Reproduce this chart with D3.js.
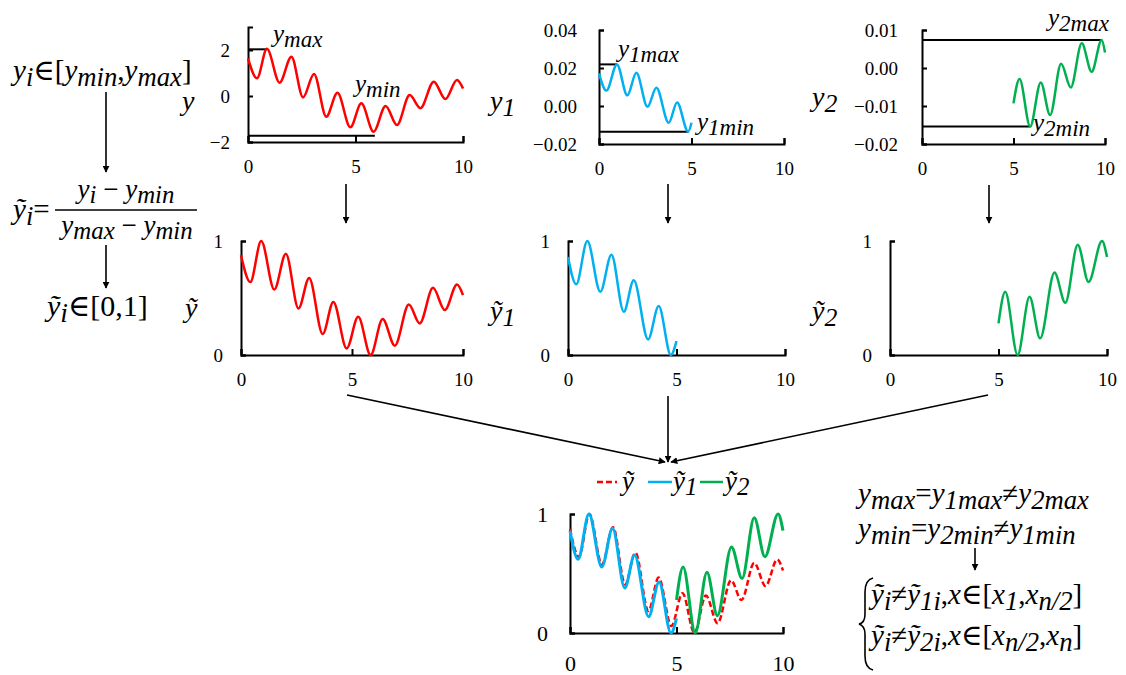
<!DOCTYPE html>
<html>
<head>
<meta charset="utf-8">
<script src="https://cdn.jsdelivr.net/npm/d3@7"></script>
<style>
  body { margin: 0; background: #fff; }
  .domain, .tick line { stroke: #000; stroke-width: 2; }
</style>
</head>
<body>
<svg id="fig" width="1126" height="675"></svg>
<script>
// tick values
var xTicks = [0, 5, 10];
var yTicks = [-2, 0, 2];
var y1Ticks = [-0.02, 0, 0.02, 0.04];
var y2Ticks = [-0.02, -0.01, 0, 0.01];
var normTicks = [0, 1];

// raw signal and its two halves, [x, value] read at each peak / trough
var ySeries = [[0,1.64],[0.42,0.77],[0.88,2.05],[1.47,0.58],[2.02,1.71],[2.56,-0.06],[3.07,0.96],[3.64,-0.90],[4.16,0.14],[4.76,-1.36],[5.27,-0.32],[5.84,-1.55],[6.40,-0.43],[6.93,-1.26],[7.52,0.04],[8.02,-0.53],[8.64,0.62],[9.18,-0.13],[9.72,0.70],[10,0.33]];
var y1Series = [[0,0.0172],[0.40,0.0081],[0.97,0.0219],[1.53,0.0056],[2.02,0.0175],[2.62,-0.0004],[3.10,0.0096],[3.77,-0.0088],[4.22,0.0018],[4.82,-0.0135],[5,-0.0088]];
var y2Series = [[5,-0.0093],[5.33,-0.0029],[5.91,-0.0154],[6.49,-0.0038],[7.0,-0.0124],[7.6,0.0011],[8.13,-0.0051],[8.73,0.0065],[9.27,-0.0010],[9.82,0.0074],[10,0.0041]];

// normalised versions
var yNorm = [[0,0.875],[0.42,0.64],[0.91,1.0],[1.50,0.574],[2.02,0.889],[2.59,0.408],[3.07,0.676],[3.68,0.184],[4.16,0.466],[4.76,0.058],[5.28,0.335],[5.84,0],[6.38,0.315],[6.93,0.082],[7.56,0.443],[8.05,0.277],[8.65,0.589],[9.18,0.394],[9.73,0.618],[10,0.525]];
var y1Norm = [[0,0.86],[0.38,0.62],[0.89,1],[1.49,0.554],[2.0,0.88],[2.57,0.379],[3.03,0.656],[3.69,0.137],[4.18,0.429],[4.74,0],[5,0.122]];
var y2Norm = [[5,0.277],[5.31,0.554],[5.88,0],[6.43,0.51],[6.92,0.146],[7.58,0.723],[8.08,0.458],[8.65,0.968],[9.15,0.641],[9.77,1.0],[10,0.86]];

// max / min guide lines: [x where the guide ends, level]
var yGuides = [[0.9, 2.03], [5.9, -1.73]];
var y1Guides = [[0.97, 0.0219], [4.82, -0.0135]];
var y2Guides = [[9.82, 0.0074], [5.91, -0.0154]];

var RED = "#ff0000", BLUE = "#00b0f0", GREEN = "#00b050";
var SERIF = "'Liberation Serif', 'Times New Roman', Times, 'DejaVu Serif', serif";

var svg = d3.select("#fig").style("font-family", SERIF);
svg.append("rect").attr("width", 1126).attr("height", 675).attr("fill", "#fff");

var defs = svg.append("defs");
defs.append("marker").attr("id", "head")
    .attr("viewBox", "0 0 10 10").attr("refX", 9).attr("refY", 5)
    .attr("markerWidth", 7).attr("markerHeight", 7)
    .attr("markerUnits", "userSpaceOnUse").attr("orient", "auto")
  .append("path").attr("d", "M0,0 L10,5 L0,10 z").attr("fill", "#000");

function panel(cfg) {
  var x = d3.scaleLinear().domain([0, 10]).range(cfg.xr);
  var y = d3.scaleLinear().domain(cfg.yd).range(cfg.yr);
  var g = svg.append("g");
  var fs = cfg.fs || 19;
  var ax = g.append("g")
    .attr("transform", "translate(0," + cfg.yr[0] + ")")
    .call(d3.axisBottom(x).tickValues(xTicks).tickSizeInner(-6).tickSizeOuter(-6).tickPadding(cfg.xpad || 18));
  var ay = g.append("g")
    .attr("transform", "translate(" + cfg.xr[0] + ",0)")
    .call(d3.axisLeft(y).tickValues(cfg.ticks).tickFormat(cfg.fmt || d3.format("d"))
      .tickSizeInner(-5).tickSizeOuter(-5).tickPadding(cfg.ypad || 18));
  [ax, ay].forEach(function(a) {
    a.attr("font-family", null).attr("font-size", null);
    a.selectAll(".tick text").style("font-family", SERIF).style("font-size", fs + "px").attr("fill", "#000");
    a.select(".domain").attr("fill", "none");
  });
  return { x: x, y: y, g: g };
}

function curve(p, data, color, width, dash) {
  var line = d3.line().x(function(d) { return p.x(d[0]); })
                      .y(function(d) { return p.y(d[1]); })
                      .curve(d3.curveMonotoneX);
  p.g.append("path").datum(data).attr("d", line)
    .attr("fill", "none").attr("stroke", color).attr("stroke-width", width || 2.5)
    .attr("stroke-dasharray", dash || null);
}

function guides(p, data) {
  p.g.selectAll(".guide").data(data).enter().append("line")
    .attr("x1", p.x(0)).attr("x2", function(d) { return p.x(d[0]); })
    .attr("y1", function(d) { return p.y(d[1]); }).attr("y2", function(d) { return p.y(d[1]); })
    .attr("stroke", "#000").attr("stroke-width", 2);
}

// italic math with subscripts; parts = [text, kind] where kind is i / r / sub
function math(x, y, parts, size, anchor) {
  var t = svg.append("text").attr("x", x).attr("y", y)
    .style("font-family", SERIF).style("font-size", size + "px")
    .attr("text-anchor", anchor || "start");
  var shift = 0;
  parts.forEach(function(p) {
    var kind = p[1] || "i";
    var want = kind === "sub" ? 0.2 * size : 0;
    var s = t.append("tspan").text(p[0]).attr("dy", want - shift);
    shift = want;
    s.style("font-style", kind === "r" ? "normal" : "italic");
    if (kind === "sub") s.style("font-size", (size * 0.92) + "px");
  });
  return t;
}

function arrow(x1, y1, x2, y2) {
  svg.append("line").attr("x1", x1).attr("y1", y1).attr("x2", x2).attr("y2", y2)
    .attr("stroke", "#000").attr("stroke-width", 1.6).attr("marker-end", "url(#head)");
}

// ---- top row: raw signals ----
var p1 = panel({ xr: [248, 463], yd: [-2, 3], yr: [142, 27], ticks: yTicks });
guides(p1, yGuides);
curve(p1, ySeries, RED);

var p3 = panel({ xr: [599, 784], yd: [-0.02, 0.04], yr: [144, 30], ticks: y1Ticks, fmt: d3.format(".2f"), ypad: 22 });
guides(p3, y1Guides);
curve(p3, y1Series, BLUE);

var p5 = panel({ xr: [922, 1105], yd: [-0.02, 0.01], yr: [144, 30], ticks: y2Ticks, fmt: d3.format(".2f"), ypad: 24 });
guides(p5, y2Guides);
curve(p5, y2Series, GREEN);

// ---- second row: normalised ----
var p2 = panel({ xr: [241, 463], yd: [0, 1], yr: [355, 241], ticks: normTicks });
curve(p2, yNorm, RED);
var p4 = panel({ xr: [568, 785], yd: [0, 1], yr: [355, 241], ticks: normTicks });
curve(p4, y1Norm, BLUE);
var p6 = panel({ xr: [890, 1107], yd: [0, 1], yr: [355, 241], ticks: normTicks });
curve(p6, y2Norm, GREEN);

// ---- bottom: combined ----
var p7 = panel({ xr: [570, 783], yd: [0, 1], yr: [633, 514], ticks: normTicks, fs: 22, xpad: 22, ypad: 22 });
curve(p7, yNorm, RED, 2.5, "6,3");
curve(p7, y1Norm, BLUE, 3);
curve(p7, y2Norm, GREEN, 3);

// legend
var legend = [[RED, "6,3", 597, 617, 622, [["ỹ"]]],
              [BLUE, null, 648, 672, 673, [["ỹ"], ["1", "sub"]]],
              [GREEN, null, 700, 723, 725, [["ỹ"], ["2", "sub"]]]];
legend.forEach(function(l) {
  svg.append("line").attr("x1", l[2]).attr("x2", l[3]).attr("y1", 482).attr("y2", 482)
    .attr("stroke", l[0]).attr("stroke-width", 2.5).attr("stroke-dasharray", l[1]);
  math(l[4], 490, l[5], 27);
});

// axis titles
math(182, 110, [["y"]], 28);
math(490, 110, [["y"], ["1", "sub"]], 28);
math(812, 106, [["y"], ["2", "sub"]], 28);
math(185, 317, [["ỹ"]], 28);
math(490, 320, [["ỹ"], ["1", "sub"]], 28);
math(812, 320, [["ỹ"], ["2", "sub"]], 28);

// max / min labels
math(273, 42, [["y"], ["max", "sub"]], 25);
math(355, 92, [["y"], ["min", "sub"]], 25);
math(618, 57, [["y"], ["1max", "sub"]], 25);
math(697, 130, [["y"], ["1min", "sub"]], 25);
math(1048, 26, [["y"], ["2max", "sub"]], 25);
math(1033, 131, [["y"], ["2min", "sub"]], 25);

// left formula column
math(13, 80, [["y"], ["i", "sub"], ["∈", "r"], ["[", "r"], ["y"], ["min", "sub"], [",", "r"], ["y"], ["max", "sub"], ["]", "r"]], 29);
arrow(106, 92, 106, 172);
math(13, 219, [["ỹ"], ["i", "sub"], ["=", "r"]], 29);
math(126, 198, [["y"], ["i", "sub"], [" − ", "r"], ["y"], ["min", "sub"]], 27, "middle");
svg.append("line").attr("x1", 55).attr("x2", 197).attr("y1", 210).attr("y2", 210)
  .attr("stroke", "#000").attr("stroke-width", 1.5);
math(127, 234, [["y"], ["max", "sub"], [" − ", "r"], ["y"], ["min", "sub"]], 27, "middle");
arrow(106, 245, 106, 288);
math(47, 316, [["ỹ"], ["i", "sub"], ["∈", "r"], ["[0,1]", "r"]], 30);

// arrows between rows
arrow(346, 184, 346, 223);
arrow(668, 184, 668, 223);
arrow(989, 185, 989, 223);
arrow(347, 395, 665, 462);
arrow(668, 396, 668, 462);
arrow(988, 395, 671, 462);

// right formula block
math(858, 503, [["y"], ["max", "sub"], ["=", "r"], ["y"], ["1max", "sub"], ["≠", "r"], ["y"], ["2max", "sub"]], 29);
math(858, 538, [["y"], ["min", "sub"], ["=", "r"], ["y"], ["2min", "sub"], ["≠", "r"], ["y"], ["1min", "sub"]], 29);
arrow(975, 548, 975, 570);
svg.append("path")
  .attr("d", "M873,578 Q865,580 865,592 L865,614 Q865,623 859,624 Q865,626 865,634 L865,656 Q865,668 873,670")
  .attr("fill", "none").attr("stroke", "#000").attr("stroke-width", 1.6);
math(871, 604, [["ỹ"], ["i", "sub"], ["≠", "r"], ["ỹ"], ["1i", "sub"], [",", "r"], ["x"], ["∈", "r"], ["[", "r"], ["x"], ["1", "sub"], [",", "r"], ["x"], ["n/2", "sub"], ["]", "r"]], 29);
math(871, 645, [["ỹ"], ["i", "sub"], ["≠", "r"], ["ỹ"], ["2i", "sub"], [",", "r"], ["x"], ["∈", "r"], ["[", "r"], ["x"], ["n/2", "sub"], [",", "r"], ["x"], ["n", "sub"], ["]", "r"]], 29);
</script>
</body>
</html>
